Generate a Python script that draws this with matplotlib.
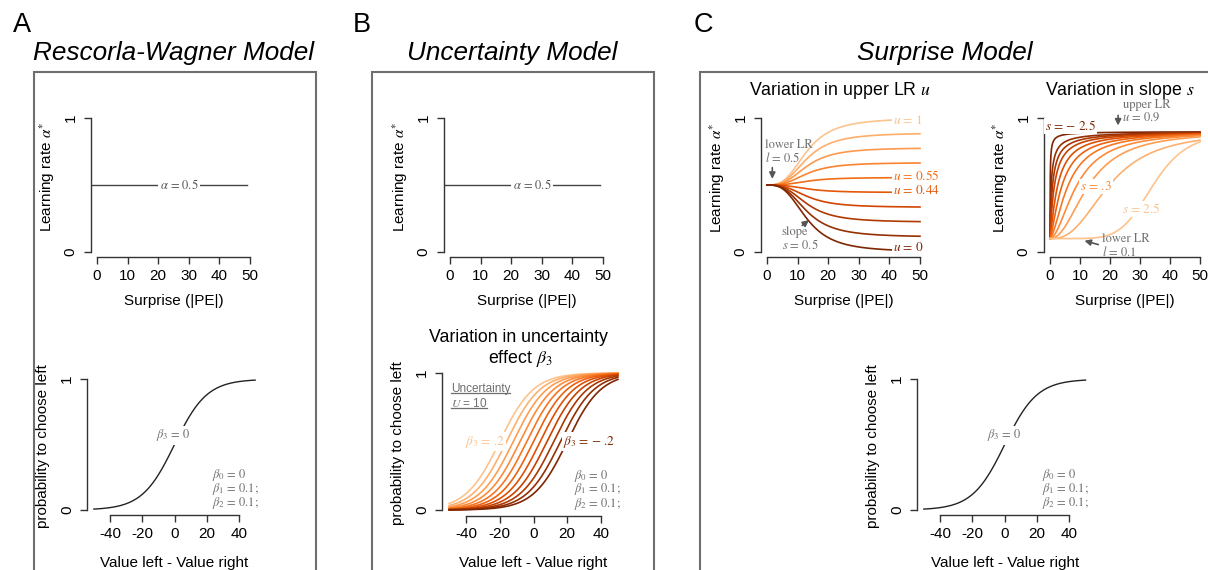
import numpy as np
import matplotlib
matplotlib.use("Agg")
import matplotlib.pyplot as plt
from matplotlib.patches import Rectangle
from matplotlib.lines import Line2D

plt.rcParams['font.family'] = ['Liberation Sans', 'DejaVu Sans']
plt.rcParams['mathtext.fontset'] = 'stix'
plt.rcParams['axes.unicode_minus'] = False

W, H = 1208, 570

# ---------------- data ----------------
# A / B top: constant learning rate
pe_flat = np.arange(-2, 50)
alpha_fixed = 0.5

# choice curves
value_diff = np.linspace(-50, 50, 201)
beta0, beta1, beta2 = 0.0, 0.1, 0.1
beta3_fixed = 0.0
beta3_values = [0.2, 0.16, 0.12, 0.08, 0.04, 0.0, -0.04, -0.08, -0.12, -0.16, -0.2]
uncertainty = 10

# C: surprise dependent learning rate
pe_grid = np.linspace(0, 50, 501)
lower_u_panel = 0.5
mid_u_panel, steep_u_panel = 13.0, 3.0
upper_values = [1.0, 0.889, 0.778, 0.667, 0.556, 0.444, 0.333, 0.222, 0.111, 0.0]

lower_s_panel, upper_s_panel = 0.1, 0.9
slope_mid = [0.064, 0.42, 0.87, 1.5, 2.6, 4.05, 6.1, 9.0, 13.0, 19.8, 34.4]
slope_steep = [0.8, 0.9, 1.0, 1.1, 1.25, 1.4, 1.6, 1.85, 2.17, 2.6, 5.95]

surprise_ticks = [0, 10, 20, 30, 40, 50]
value_ticks = [-40, -20, 0, 20, 40]


def choice_prob(x, b3):
    return 1 / (1 + np.exp(-(beta0 + beta1 * x + b3 * uncertainty)))


def surprise_lr(pe, lower, upper, mid, k):
    return lower + (upper - lower) * pe ** k / (pe ** k + mid ** k)


# ---------------- figure helpers ----------------
axis_col = '#333333'
note_col = '#6f6f6f'
serif = 'STIXGeneral'
fs_tick = 11
fs_lab = 11
fs_note = 9
fs_curve = 9.5

fig = plt.figure(figsize=(W / 100, H / 100), dpi=100)


def px_axes(left, top, right, bottom):
    return fig.add_axes([left / W, 1 - bottom / H, (right - left) / W, (bottom - top) / H])


def ftext(px, py, s, **kw):
    return fig.text(px / W, 1 - py / H, s, **kw)


def r_style(ax, xlim, xticks):
    ax.set_xlim(xlim)
    ax.set_ylim(-0.04, 1.04)
    ax.set_xticks(xticks)
    ax.set_yticks([0, 1], labels=['0', '1'], rotation=90, va='center')
    ax.spines[['top', 'right']].set_visible(False)
    ax.spines['left'].set_bounds(0, 1)
    ax.spines['bottom'].set_bounds(xticks[0], xticks[-1])
    for sp in ['left', 'bottom']:
        ax.spines[sp].set_color(axis_col)
        ax.spines[sp].set_linewidth(1.0)
    ax.tick_params(length=5, width=1.0, color=axis_col, labelsize=fs_tick)
    ax.tick_params(axis='x', pad=3.6)
    ax.tick_params(axis='y', pad=4.6)
    ax.patch.set_visible(False)


def labels(ax, xlab, xbase, ylab, ycen):
    bb = ax.get_position()
    cx = (bb.x0 + bb.x1) / 2 * W
    ftext(cx, xbase, xlab, ha='center', va='baseline', fontsize=fs_lab)
    ftext(bb.x0 * W - 44, ycen, ylab, ha='center', va='center', rotation=90, fontsize=fs_lab)


def note(ax, x, y, s, color=note_col, size=fs_note, box=False, ha='left'):
    kw = dict(boxstyle='square,pad=0.1', fc='white', ec='none') if box else None
    return ax.text(x, y, s, ha=ha, va='center', fontsize=size, color=color,
                   family=serif, bbox=kw)


def arrow(ax, tip, tail):
    ax.annotate('', xy=tip, xytext=tail,
                arrowprops=dict(arrowstyle='-|>', color='#555555', lw=1.2, mutation_scale=9))


# ---------------- frames, titles ----------------
for x0, x1 in [(34, 316), (372, 654), (700, 1240)]:
    fig.add_artist(Rectangle((x0 / W, 1 - 620 / H), (x1 - x0) / W, (620 - 72) / H,
                             transform=fig.transFigure, fill=False, ec='#6e6e6e', lw=1.5))

for px, letter in [(22, 'A'), (362, 'B'), (703, 'C')]:
    ftext(px, 32, letter, ha='center', va='baseline', fontsize=19.5)
for px, title in [(174, 'Rescorla-Wagner Model'), (512, 'Uncertainty Model'), (945, 'Surprise Model')]:
    ftext(px, 60, title, ha='center', va='baseline', fontsize=18.8, style='italic')

lr_label = r'Learning rate $\alpha^{*}$'
prob_label = 'probability to choose left'

# ---------------- A / B top : flat learning rate ----------------
for left, right in [(90.9, 256.1), (443.9, 609.1)]:
    ax = px_axes(left, 112.6, right, 257.4)
    r_style(ax, (-2, 52), surprise_ticks)
    ax.plot(pe_flat, np.full(len(pe_flat), alpha_fixed), color='#444444', lw=1.0)
    note(ax, 26.8, alpha_fixed, r'$\alpha$ = 0.5', color='#555555', box=True, ha='center')
    labels(ax, 'Surprise (|PE|)', 305, lr_label, 177)

# ---------------- A / C bottom : single choice curve ----------------
for left, right in [(87.4, 261.6), (917.4, 1092.0)]:
    ax = px_axes(left, 374, right, 515.2)
    r_style(ax, (-54, 54), value_ticks)
    ax.plot(value_diff, choice_prob(value_diff, beta3_fixed), color='#222222', lw=1.0)
    note(ax, -0.5, 0.57, r'$\beta_3$ = 0', box=True, ha='center')
    for yy, s in [(0.27, r'$\beta_0$ = 0'), (0.16, r'$\beta_1$ = 0.1;'), (0.05, r'$\beta_2$ = 0.1;')]:
        note(ax, 23, yy, s)
    labels(ax, 'Value left - Value right', 566.7, prob_label, 446)

# ---------------- B bottom : variation in beta3 ----------------
ax = px_axes(442.4, 367.5, 624.6, 515.5)
r_style(ax, (-54, 54), value_ticks)
cols_b = plt.cm.Oranges(np.linspace(0.3, 1.0, len(beta3_values)))
for b3, c in zip(beta3_values, cols_b):
    ax.plot(value_diff, choice_prob(value_diff, b3), color=c, lw=1.2)
note(ax, -40.6, 0.5, r'$\beta_3$ = .2', color=cols_b[0], size=fs_curve, box=True)
note(ax, 17.5, 0.5, r'$\beta_3$ = − .2', color=cols_b[-1], size=fs_curve, box=True)
for yy, s in [(0.25, r'$\beta_0$ = 0'), (0.15, r'$\beta_1$ = 0.1;'), (0.045, r'$\beta_2$ = 0.1;')]:
    note(ax, 24, yy, s)
t_unc1 = ax.text(-49, 0.885, 'Uncertainty', ha='left', va='center', fontsize=8.5, color=note_col)
t_unc2 = ax.text(-49, 0.78, r'$U$ = 10', ha='left', va='center', fontsize=8.5, color=note_col)
labels(ax, 'Value left - Value right', 566.7, prob_label, 443)
ftext(518, 341.7, 'Variation in uncertainty', ha='center', va='baseline', fontsize=12.8)
ftext(520, 363.3, r'effect $\beta_3$', ha='center', va='baseline', fontsize=12.8)

# ---------------- C left : variation in upper LR ----------------
ax = px_axes(760.9, 112.6, 926.1, 257.4)
r_style(ax, (-2, 52), surprise_ticks)
cols_u = plt.cm.Oranges(np.linspace(0.3, 1.0, len(upper_values)))
for u, c in zip(upper_values, cols_u):
    ax.plot(pe_grid, surprise_lr(pe_grid, lower_u_panel, u, mid_u_panel, steep_u_panel), color=c, lw=1.2)
for idx, yy, s in [(0, 0.98, r'$u$ = 1'), (4, 0.567, r'$u$ = 0.55'),
                   (5, 0.457, r'$u$ = 0.44'), (9, 0.032, r'$u$ = 0')]:
    note(ax, 41.2, yy, s, color=cols_u[idx], size=fs_curve, box=True)
note(ax, -0.65, 0.795, 'lower LR')
note(ax, -0.65, 0.70, r'$l$ = 0.5')
arrow(ax, (1.73, 0.525), (1.73, 0.65))
note(ax, 4.8, 0.145, 'slope')
note(ax, 4.8, 0.05, r'$s$ = 0.5')
arrow(ax, (14.4, 0.251), (10.8, 0.185))
labels(ax, 'Surprise (|PE|)', 305, lr_label, 178)
ftext(840, 95, r'Variation in upper LR $u$', ha='center', va='baseline', fontsize=12.8)

# ---------------- C right : variation in slope ----------------
ax = px_axes(1044, 112.6, 1206, 257.4)
r_style(ax, (-2, 52), surprise_ticks)
cols_s = plt.cm.Oranges(np.linspace(1.0, 0.3, len(slope_mid)))
for m, k, c in zip(slope_mid, slope_steep, cols_s):
    ax.plot(pe_grid, surprise_lr(pe_grid, lower_s_panel, upper_s_panel, m, k), color=c, lw=1.2)
note(ax, -1.7, 0.94, r'$s$ = − 2.5', color=cols_s[0], size=fs_curve, box=True)
note(ax, 10, 0.49, r'$s$ = .3', color=cols_s[7], size=fs_curve, box=True)
note(ax, 23.9, 0.32, r'$s$ = 2.5', color=cols_s[-1], size=fs_curve, box=True)
note(ax, 24.3, 1.095, 'upper LR')
note(ax, 24.0, 1.0, r'$u$ = 0.9')
arrow(ax, (22.7, 0.923), (22.7, 1.04))
note(ax, 17.2, 0.095, 'lower LR')
note(ax, 17.2, 0.0, r'$l$ = 0.1')
arrow(ax, (10.6, 0.09), (17.0, 0.05))
labels(ax, 'Surprise (|PE|)', 305, lr_label, 178)
ftext(1120, 95, r'Variation in slope $s$', ha='center', va='baseline', fontsize=12.8)

# underline the uncertainty note
fig.canvas.draw()
rend = fig.canvas.get_renderer()
inv = fig.transFigure.inverted()
for t in [t_unc1, t_unc2]:
    bb = t.get_window_extent(rend)
    (x0, y0), (x1, _) = inv.transform([(bb.x0, bb.y0 + 2), (bb.x1, bb.y0 + 2)])
    fig.add_artist(Line2D([x0, x1], [y0, y0], transform=fig.transFigure, color=note_col, lw=0.9))

fig.savefig('out.png', dpi=100)
